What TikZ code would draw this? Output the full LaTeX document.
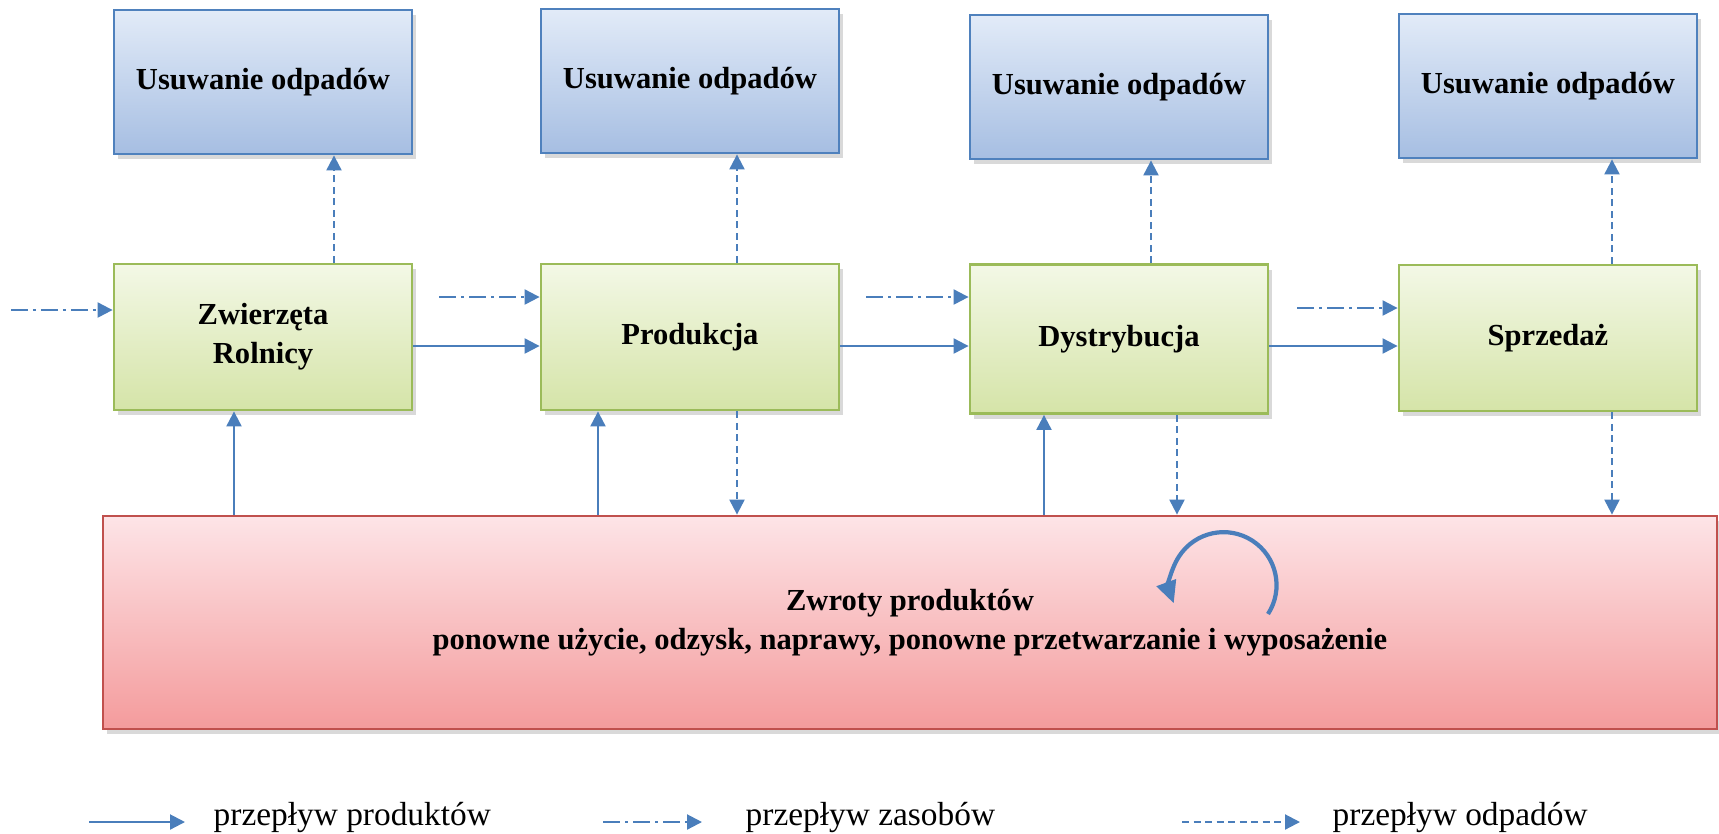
\documentclass[tikz,border=0pt]{standalone}
\usepackage{fontspec}
\setmainfont{Liberation Serif}
\usetikzlibrary{arrows.meta,shadows}
\definecolor{flowblue}{RGB}{74,126,187}
\definecolor{wastetop}{RGB}{226,235,248}
\definecolor{wastebot}{RGB}{166,190,226}
\definecolor{wasteline}{RGB}{79,129,189}
\definecolor{stagetop}{RGB}{243,248,230}
\definecolor{stagebot}{RGB}{213,228,168}
\definecolor{stageline}{RGB}{155,187,89}
\definecolor{returntop}{RGB}{253,228,231}
\definecolor{returnbot}{RGB}{244,155,156}
\definecolor{returnline}{RGB}{192,80,77}
\tikzset{
    box/.style={rectangle, draw, line width=.8pt, minimum width=2.98cm,
    	minimum height=1.44cm, align=center,
    	font=\fontsize{8.7}{11}\selectfont\bfseries,
    	drop shadow={shadow xshift=.4mm, shadow yshift=-.5mm, opacity=.3}},
    waste box/.style={box, draw=wasteline, top color=wastetop, bottom color=wastebot},
    stage box/.style={box, draw=stageline, top color=stagetop, bottom color=stagebot,
    	minimum height=1.46cm},
    return box/.style={box, draw=returnline, top color=returntop, bottom color=returnbot,
    	minimum width=16.14cm, minimum height=2.13cm}
}
\tikzset{
    flow/.style={draw=flowblue, line width=.6pt, -{Triangle[length=1.5mm, width=1.5mm]}},
    product/.style={flow},
    resource/.style={flow, dash pattern=on 1.7mm off .5mm on .3mm off .5mm},
    waste/.style={flow, dash pattern=on .7mm off .45mm},
    legend/.style={anchor=west, inner sep=0pt, font=\fontsize{9.5}{11}\selectfont}
}

\begin{document}
\begin{tikzpicture}
	\useasboundingbox (0,0) rectangle (17.19cm, -8.33cm);

	\node (b1) [waste box] at (2.63cm, -0.82cm) {Usuwanie odpadów};
	\node (b2) [waste box] at (6.90cm, -0.81cm) {Usuwanie odpadów};
	\node (b3) [waste box] at (11.19cm, -0.87cm) {Usuwanie odpadów};
	\node (b4) [waste box] at (15.48cm, -0.86cm) {Usuwanie odpadów};

	\node (g1) [stage box] at (2.63cm, -3.37cm) {Zwierzęta\\Rolnicy};
	\node (g2) [stage box] at (6.90cm, -3.37cm) {Produkcja};
	\node (g3) [stage box, minimum height=1.49cm] at (11.19cm, -3.39cm) {Dystrybucja};
	\node (g4) [stage box] at (15.48cm, -3.38cm) {Sprzedaż};

	\node (zwroty) [return box] at (9.10cm, -6.225cm)
		{Zwroty produktów\\ponowne użycie, odzysk, naprawy, ponowne przetwarzanie i wyposażenie};

	% columns and rows of the connectors
	\coordinate (w1) at (3.34cm, 0); \coordinate (w2) at (7.37cm, 0);
	\coordinate (w3) at (11.51cm, 0); \coordinate (w4) at (16.12cm, 0);
	\coordinate (d3) at (11.77cm, 0);
	\coordinate (p1) at (2.34cm, 0); \coordinate (p2) at (5.98cm, 0);
	\coordinate (p3) at (10.44cm, 0);
	\coordinate (rowP) at (0, -3.46cm);
	\coordinate (r0) at (0.11cm, -3.10cm); \coordinate (r12) at (4.39cm, -2.97cm);
	\coordinate (r23) at (8.66cm, -2.97cm); \coordinate (r34) at (12.97cm, -3.08cm);

	\draw[waste] (g1.north -| w1) -- (b1.south -| w1);
	\draw[waste] (g2.north -| w2) -- (b2.south -| w2);
	\draw[waste] (g3.north -| w3) -- (b3.south -| w3);
	\draw[waste] (g4.north -| w4) -- (b4.south -| w4);

	\draw[waste] (g2.south -| w2) -- (zwroty.north -| w2);
	\draw[waste] (g3.south -| d3) -- (zwroty.north -| d3);
	\draw[waste] (g4.south -| w4) -- (zwroty.north -| w4);

	\draw[product] (zwroty.north -| p1) -- (g1.south -| p1);
	\draw[product] (zwroty.north -| p2) -- (g2.south -| p2);
	\draw[product] (zwroty.north -| p3) -- (g3.south -| p3);

	\draw[product] (g1.east |- rowP) -- (g2.west |- rowP);
	\draw[product] (g2.east |- rowP) -- (g3.west |- rowP);
	\draw[product] (g3.east |- rowP) -- (g4.west |- rowP);

	\draw[resource] (r0) -- (g1.west |- r0); \draw[resource] (r12) -- (g2.west |- r12);
	\draw[resource] (r23) -- (g3.west |- r23); \draw[resource] (r34) -- (g4.west |- r34);

	% loop inside the returns box
	\coordinate (cyc) at (12.68cm, -6.14cm);
	\draw[flow, line width=1.2pt, -{Triangle[length=2.2mm, width=2mm]}]
		(cyc) arc[start angle=-33, end angle=200, radius=.53cm];

	% legend
	\coordinate (l1a) at (0.89cm, -8.22cm); \coordinate (l1b) at (1.85cm, -8.22cm);
	\coordinate (l2a) at (6.03cm, -8.22cm); \coordinate (l2b) at (7.02cm, -8.22cm);
	\coordinate (l3a) at (11.82cm, -8.22cm); \coordinate (l3b) at (13.00cm, -8.22cm);
	\draw[product] (l1a) -- (l1b); \draw[resource] (l2a) -- (l2b);
	\draw[waste] (l3a) -- (l3b);
	\node (t1) [legend] at (2.13cm, -8.17cm) {przepływ produktów};
	\node (t2) [legend] at (7.45cm, -8.17cm) {przepływ zasobów};
	\node (t3) [legend] at (13.32cm, -8.17cm) {przepływ odpadów};
\end{tikzpicture}
\end{document}
